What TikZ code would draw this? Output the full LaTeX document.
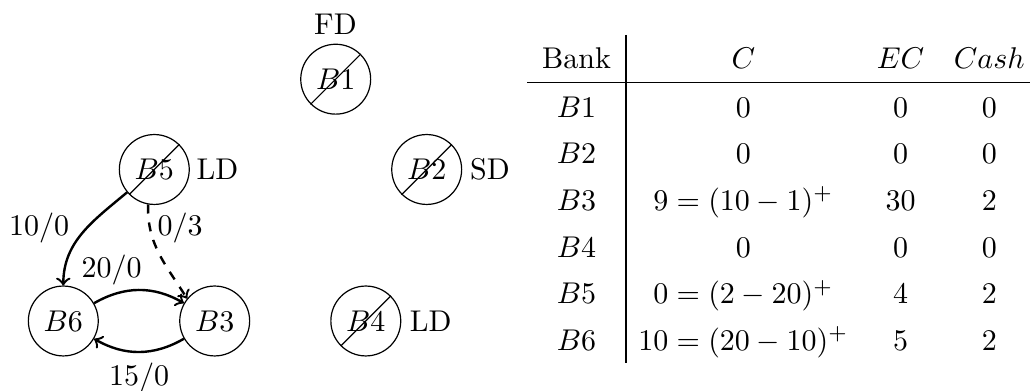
\documentclass[tikz,border=0pt]{standalone}
\begin{document}
\begin{tikzpicture}[x=0.33333pt,y=0.33333pt,
  bank/.style={circle,draw,line width=0.4pt,minimum size=23.3pt,inner sep=0pt},
  flow/.style={->,thick},
  tag/.style={inner sep=0pt},
  lbl/.style={inner sep=0pt,anchor=base},
  cell/.style={inner sep=0pt,anchor=base},
  rule/.style={line width=0.4pt},
  strike/.style={line width=0.4pt}]
\useasboundingbox (0,0) rectangle (1031,-391);
% banks
\node[bank] (B1) at (335.7,-79.2) {$B1$};
\node[bank] (B2) at (426.7,-169.5) {$B2$};
\node[bank] (B5) at (154.3,-169.5) {$B5$};
\node[bank] (B6) at (63.3,-321) {$B6$};
\node[bank] (B3) at (214.7,-321) {$B3$};
\node[bank] (B4) at (365.8,-321) {$B4$};
\foreach \n in {B1,B2,B5,B4}
  \draw[strike] (\n.south west) -- (\n.north east);
% state labels
\node[tag,anchor=base] (fd) at (335.5,-34.3) {FD};
\node[tag] (sd) at (490,-169.5) {SD};
\node[tag] (ld5) at (217.5,-169.5) {LD};
\node[tag] (ld4) at (430.8,-321) {LD};
% flows
\draw[flow] (B5) to[out=220,in=90] (B6);
\draw[flow,dashed] (B5.260) to[out=268,in=122] (B3.141);
\draw[flow] (B6) to[bend left=30] (B3);
\draw[flow] (B3) to[bend left=30] (B6);
\node[lbl] (f56) at (39.2,-236) {$10/0$};
\node[lbl] (f53) at (180,-236) {$0/3$};
\node[lbl] (f63) at (111.7,-277.3) {$20/0$};
\node[lbl] (f36) at (139.2,-386) {$15/0$};
% table rules
\coordinate (vt) at (626,-35);
\coordinate (vb) at (626,-363);
\coordinate (hl) at (527.3,-82.3);
\coordinate (hr) at (1030,-82.3);
\draw[rule] (vt) -- (vb);
\draw[rule] (hl) -- (hr);
% header
\node[cell] (hB) at (576.5,-68.3) {Bank};
\node[cell] (hC) at (743.3,-68.3) {$C$};
\node[cell] (hE) at (900.5,-68.3) {$EC$};
\node[cell] (hK) at (989.3,-68.3) {$Cash$};
% rows
\node[cell] (r1a) at (576.5,-117.3) {$B1$};
\node[cell] (r1b) at (743.3,-117.3) {$0$};
\node[cell] (r1c) at (900.5,-117.3) {$0$};
\node[cell] (r1d) at (989.3,-117.3) {$0$};
\node[cell] (r2a) at (576.5,-164) {$B2$};
\node[cell] (r2b) at (743.3,-164) {$0$};
\node[cell] (r2c) at (900.5,-164) {$0$};
\node[cell] (r2d) at (989.3,-164) {$0$};
\node[cell] (r3a) at (576.5,-210.6) {$B3$};
\node[cell] (r3b) at (743.3,-210.6) {$9=(10-1)^+$};
\node[cell] (r3c) at (900.5,-210.6) {$30$};
\node[cell] (r3d) at (989.3,-210.6) {$2$};
\node[cell] (r4a) at (576.5,-257.3) {$B4$};
\node[cell] (r4b) at (743.3,-257.3) {$0$};
\node[cell] (r4c) at (900.5,-257.3) {$0$};
\node[cell] (r4d) at (989.3,-257.3) {$0$};
\node[cell] (r5a) at (576.5,-303.9) {$B5$};
\node[cell] (r5b) at (743.3,-303.9) {$0=(2-20)^+$};
\node[cell] (r5c) at (900.5,-303.9) {$4$};
\node[cell] (r5d) at (989.3,-303.9) {$2$};
\node[cell] (r6a) at (576.5,-350.6) {$B6$};
\node[cell] (r6b) at (743.3,-350.6) {$10=(20-10)^+$};
\node[cell] (r6c) at (900.5,-350.6) {$5$};
\node[cell] (r6d) at (989.3,-350.6) {$2$};
\end{tikzpicture}
\end{document}
